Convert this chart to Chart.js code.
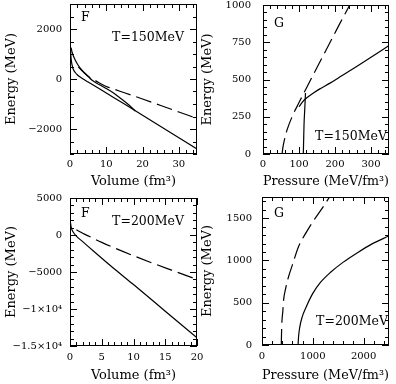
<!DOCTYPE html>
<html>
<head>
<meta charset="utf-8">
<script src="https://cdn.jsdelivr.net/npm/chart.js@4.4.1/dist/chart.umd.min.js"></script>
<style>
  body { margin: 0; background: #fff; width: 396px; height: 384px; position: relative; overflow: hidden; }
  canvas { position: absolute; }
</style>
</head>
<body>
<canvas id="c1" width="212" height="192" style="left:0;top:0"></canvas>
<canvas id="c2" width="200" height="192" style="left:196px;top:0"></canvas>
<canvas id="c3" width="212" height="192" style="left:0;top:192px"></canvas>
<canvas id="c4" width="200" height="192" style="left:196px;top:192px"></canvas>
<script>
// --- T=150MeV, free energy F vs volume
const f150SteepV = [0.05, 0.2, 0.4, 0.7, 1, 1.5, 2, 2.5, 3, 5, 10, 15, 20, 25, 30, 35];
const f150SteepE = [1400, 1000, 700, 480, 360, 250, 170, 110, 60, -120, -560, -1000, -1450, -1900, -2350, -2800];
const f150ThinV = [0.3, 0.6, 1, 1.5, 2, 2.5, 3, 4, 5, 6, 8, 10, 12, 14, 16, 18];
const f150ThinE = [1250, 1060, 900, 740, 610, 500, 400, 250, 110, -40, -220, -380, -560, -780, -1010, -1280];
const f150DashV = [2.3, 3, 4, 5, 6, 8, 10, 12, 15, 20, 25, 30, 35];
const f150DashE = [480, 380, 230, 100, 20, -150, -300, -400, -550, -800, -1060, -1320, -1580];

// --- T=150MeV, G vs pressure
const g150DashP = [53, 55, 60, 68, 83, 100, 120, 150, 180, 210, 241];
const g150DashE = [0, 40, 100, 170, 262, 345, 440, 580, 720, 860, 1000];
const g150VertP = [112, 113, 114, 116, 118];
const g150VertE = [0, 100, 200, 300, 410];
const g150CurveP = [100, 110, 120, 140, 160, 185, 220, 259, 300, 350];
const g150CurveE = [317, 350, 374, 410, 440, 474, 527, 586, 650, 728];

// --- T=200MeV, F vs volume
const f200SolidV = [0.05, 0.2, 0.5, 1, 2, 4, 7, 10, 15, 20];
const f200SolidE = [1800, 1000, 400, -150, -900, -2400, -4600, -6700, -10300, -13900];
const f200DashV = [1, 2, 3, 5, 7, 10, 13, 16, 20];
const f200DashE = [700, 230, -180, -1000, -1750, -2800, -3800, -4750, -6000];

// --- T=200MeV, G vs pressure
const g200DashP = [380, 383, 390, 410, 425, 470, 524, 600, 720, 880, 1049, 1200, 1330];
const g200DashE = [0, 100, 250, 400, 530, 680, 810, 950, 1165, 1340, 1500, 1630, 1750];
const g200SolidP = [710, 720, 740, 790, 870, 1000, 1150, 1350, 1600, 1850, 2150, 2500];
const g200SolidE = [0, 100, 200, 330, 450, 610, 740, 860, 980, 1080, 1190, 1290];

// tick labels
const xTicks1 = [0, 10, 20, 30];
const yTicks1 = [-2000, 0, 2000];
const xTicks2 = [0, 100, 200, 300];
const yTicks2 = [0, 250, 500, 750, 1000];
const xTicks3 = [0, 5, 10, 15, 20];
const yTicks3 = [5000, 0, -5000, -10000, -15000];
const yLabels3 = ["5000", "0", "\u22125000", "\u22121\u00d710\u2074", "\u22121.5\u00d710\u2074"];
const xTicks4 = [0, 1000, 2000];
const yTicks4 = [0, 500, 1000, 1500];

const FAM = "'DejaVu Serif', serif";

function zip(xs, ys) {
  return xs.map((x, i) => ({ x: x, y: ys[i] }));
}

function minus(v) {
  return String(v).replace("-", "\u2212");
}

// frame + inward ticks on all four sides + panel texts
function framePlugin(cfg) {
  return {
    id: "frame" + cfg.n,
    afterDraw(chart) {
      const ctx = chart.ctx, a = chart.chartArea;
      const x = chart.scales.x, y = chart.scales.y;
      const L = Math.round(a.left), R = Math.round(a.right), T = Math.round(a.top), B = Math.round(a.bottom);
      ctx.save();
      ctx.fillStyle = "#000";
      ctx.fillRect(L, T, R - L, 1);
      ctx.fillRect(L, B - 1, R - L, 1);
      ctx.fillRect(L, T, 1, B - T);
      ctx.fillRect(R - 1, T, 1, B - T);
      const xt = (v, len) => {
        const p = Math.round(x.getPixelForValue(v));
        ctx.fillRect(p, B - len, 1, len);
        ctx.fillRect(p, T, 1, len);
      };
      const yt = (v, len) => {
        const p = Math.round(y.getPixelForValue(v));
        ctx.fillRect(L, p, len, 1);
        ctx.fillRect(R - len, p, len, 1);
      };
      for (let v = cfg.xMin; v <= cfg.xMax + 1e-9; v += cfg.xMinor) xt(v, 4);
      for (let v = cfg.yMin; v <= cfg.yMax + 1e-9; v += cfg.yMinor) yt(v, 4);
      cfg.xTicks.forEach(v => xt(v, 7));
      cfg.yTicks.forEach(v => yt(v, 7));
      ctx.font = "12.5px " + FAM;
      ctx.textBaseline = "middle";
      cfg.texts.forEach(t => {
        ctx.textAlign = t.align;
        ctx.fillText(t.text, t.x, t.y);
      });
      ctx.restore();
    }
  };
}

function panel(id, cfg) {
  const datasets = cfg.series.map(s => ({
    data: s.data,
    borderColor: "#000",
    borderWidth: 1.2,
    borderDash: s.dash ? [16, 6] : [],
    pointRadius: 0,
    fill: false,
    cubicInterpolationMode: "monotone"
  }));
  new Chart(document.getElementById(id), {
    type: "line",
    data: { datasets: datasets },
    options: {
      responsive: false,
      animation: false,
      devicePixelRatio: 1,
      layout: { padding: { top: cfg.area.top, right: cfg.w - cfg.area.right, left: 0, bottom: 0 } },
      plugins: {
        legend: { display: false },
        tooltip: { enabled: false }
      },
      scales: {
        x: {
          type: "linear",
          min: cfg.xMin, max: cfg.xMax,
          afterBuildTicks: s => { s.ticks = cfg.xTicks.map(v => ({ value: v })); },
          afterFit: s => {
            s.height = cfg.h - cfg.area.bottom;
            s.paddingLeft = 0; s.paddingRight = 0;
          },
          grid: { display: false, drawTicks: false },
          border: { display: false },
          ticks: { font: { family: FAM, size: 10 }, color: "#000", padding: cfg.xPad, maxRotation: 0, autoSkip: false, callback: v => String(v) },
          title: { display: true, text: cfg.xTitle, color: "#000", font: { family: FAM, size: 13 }, padding: { top: 0, bottom: cfg.titlePad } }
        },
        y: {
          type: "linear",
          min: cfg.yMin, max: cfg.yMax,
          afterBuildTicks: s => { s.ticks = cfg.yTicks.map(v => ({ value: v })); },
          afterFit: s => {
            s.width = cfg.area.left;
            s.paddingTop = 0; s.paddingBottom = 0;
          },
          grid: { display: false, drawTicks: false },
          border: { display: false },
          ticks: { font: { family: FAM, size: 10 }, color: "#000", padding: cfg.yPad, autoSkip: false, callback: cfg.yLabel },
          title: { display: true, text: "Energy (MeV)", color: "#000", font: { family: FAM, size: 13 }, padding: { top: 4, bottom: 0 } }
        }
      }
    },
    plugins: [framePlugin(cfg)]
  });
}

panel("c1", {
  n: 1, w: 212, h: 192, area: { left: 70, right: 197, top: 4, bottom: 154 },
  xMin: 0, xMax: 35, yMin: -3000, yMax: 3000,
  xTicks: xTicks1, yTicks: yTicks1, xMinor: 2, yMinor: 500,
  xPad: 4, yPad: 8, titlePad: 3,
  xTitle: "Volume (fm\u00b3)",
  yLabel: v => minus(v),
  series: [
    { data: zip(f150SteepV, f150SteepE) },
    { data: zip(f150ThinV, f150ThinE) },
    { data: zip(f150DashV, f150DashE), dash: true }
  ],
  texts: [
    { text: "F", x: 81, y: 17.5, align: "left" },
    { text: "T=150MeV", x: 184, y: 37.5, align: "right" }
  ]
});

panel("c2", {
  n: 2, w: 200, h: 192, area: { left: 67, right: 193, top: 5, bottom: 154 },
  xMin: 0, xMax: 350, yMin: 0, yMax: 1000,
  xTicks: xTicks2, yTicks: yTicks2, xMinor: 20, yMinor: 50,
  xPad: 4, yPad: 12, titlePad: 3,
  xTitle: "Pressure (MeV/fm\u00b3)",
  yLabel: v => minus(v),
  series: [
    { data: zip(g150DashP, g150DashE), dash: true },
    { data: zip(g150VertP, g150VertE) },
    { data: zip(g150CurveP, g150CurveE) }
  ],
  texts: [
    { text: "G", x: 78, y: 24, align: "left" },
    { text: "T=150MeV", x: 191, y: 137, align: "right" }
  ]
});

panel("c3", {
  n: 3, w: 212, h: 192, area: { left: 70, right: 197, top: 6, bottom: 154 },
  xMin: 0, xMax: 20, yMin: -15000, yMax: 5000,
  xTicks: xTicks3, yTicks: yTicks3, xMinor: 1, yMinor: 1000,
  xPad: 5, yPad: 8, titlePad: 1,
  xTitle: "Volume (fm\u00b3)",
  yLabel: v => yLabels3[yTicks3.indexOf(v)],
  series: [
    { data: zip(f200SolidV, f200SolidE) },
    { data: zip(f200DashV, f200DashE), dash: true }
  ],
  texts: [
    { text: "F", x: 81, y: 22, align: "left" },
    { text: "T=200MeV", x: 184, y: 30, align: "right" }
  ]
});

panel("c4", {
  n: 4, w: 200, h: 192, area: { left: 66, right: 193, top: 5, bottom: 153 },
  xMin: 0, xMax: 2500, yMin: 0, yMax: 1750,
  xTicks: xTicks4, yTicks: yTicks4, xMinor: 200, yMinor: 100,
  xPad: 5, yPad: 10, titlePad: 1,
  xTitle: "Pressure (MeV/fm\u00b3)",
  yLabel: v => minus(v),
  series: [
    { data: zip(g200DashP, g200DashE), dash: true },
    { data: zip(g200SolidP, g200SolidE) }
  ],
  texts: [
    { text: "G", x: 78, y: 22, align: "left" },
    { text: "T=200MeV", x: 192, y: 130, align: "right" }
  ]
});
</script>
</body>
</html>
